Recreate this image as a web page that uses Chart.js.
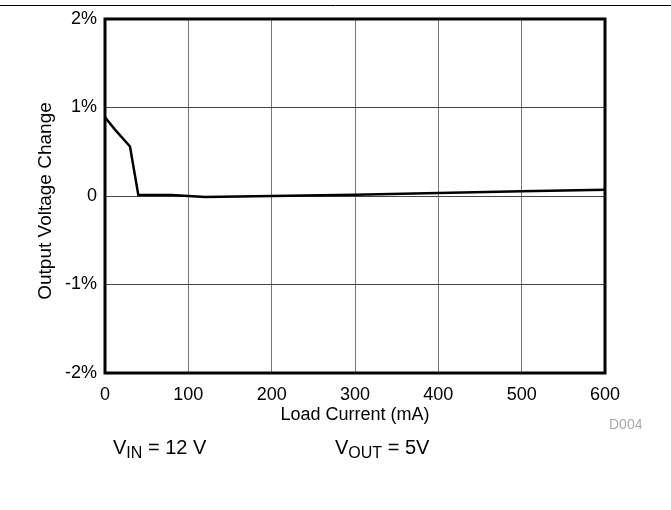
<!DOCTYPE html>
<html>
<head>
<meta charset="utf-8">
<script src="https://cdn.jsdelivr.net/npm/chart.js@4"></script>
<style>
  body { margin: 0; background: #fff; }
  #wrap { width: 671px; height: 510px; }
</style>
</head>
<body>
<div id="wrap"><canvas id="line-chart" width="671" height="510"></canvas></div>
<script>
// load current in mA
var loadCurrent = [0, 12, 30, 40, 60, 80, 100, 120, 200, 300, 400, 500, 600];
// output voltage change in %
var voltageChange = [0.89, 0.75, 0.56, 0.01, 0.01, 0.01, 0.0, -0.01, 0.0, 0.015, 0.035, 0.055, 0.07];
var yTicks = [-2, -1, 0, 1, 2];

var FONT = "'Liberation Sans', Arial, sans-serif";

var extras = {
    id: "extras",
    afterDraw: function (chart) {
        var ctx = chart.ctx;
        var a = chart.chartArea;
        ctx.save();
        // frame
        ctx.strokeStyle = "#000";
        ctx.lineWidth = 3;
        ctx.strokeRect(a.left, a.top, a.right - a.left, a.bottom - a.top);
        // top rule
        ctx.lineWidth = 1;
        ctx.beginPath();
        ctx.moveTo(0, 5.5);
        ctx.lineTo(671, 5.5);
        ctx.stroke();

        ctx.fillStyle = "#000";
        // y title
        ctx.save();
        ctx.translate(46, 201);
        ctx.rotate(-Math.PI / 2);
        ctx.font = "19px " + FONT;
        ctx.textAlign = "center";
        ctx.textBaseline = "middle";
        ctx.fillText("Output Voltage Change", 0, 0);
        ctx.restore();

        // x title
        ctx.font = "18px " + FONT;
        ctx.textAlign = "center";
        ctx.textBaseline = "alphabetic";
        ctx.fillText("Load Current (mA)", 355, 420);

        // figure id
        ctx.fillStyle = "#aaa";
        ctx.font = "14px " + FONT;
        ctx.textAlign = "left";
        ctx.textBaseline = "middle";
        ctx.fillText("D004", 609, 425);

        // conditions
        ctx.fillStyle = "#000";
        ctx.textBaseline = "alphabetic";
        drawSub(ctx, 113, 454, "V", "IN", " = 12 V");
        drawSub(ctx, 335, 454, "V", "OUT", " = 5V");
        ctx.restore();
    }
};

function drawSub(ctx, x, y, main, sub, rest) {
    ctx.textAlign = "left";
    ctx.font = "20px " + FONT;
    ctx.fillText(main, x, y);
    x += ctx.measureText(main).width;
    ctx.font = "16px " + FONT;
    ctx.fillText(sub, x, y + 4);
    x += ctx.measureText(sub).width;
    ctx.font = "20px " + FONT;
    ctx.fillText(rest, x, y);
}

function renderChart() {
    var points = loadCurrent.map(function (c, i) {
        return { x: c, y: voltageChange[i] };
    });
    new Chart(document.getElementById("line-chart"), {
        type: "line",
        data: {
            datasets: [
                {
                    data: points,
                    borderColor: "#000",
                    borderWidth: 2.5,
                    pointRadius: 0,
                    fill: false,
                    tension: 0,
                },
            ],
        },
        plugins: [extras],
        options: {
            responsive: false,
            animation: false,
            layout: { padding: { top: 19, right: 66, left: 0, bottom: 0 } },
            plugins: {
                legend: { display: false },
                tooltip: { enabled: false },
            },
            scales: {
                x: {
                    type: "linear",
                    min: 0,
                    max: 600,
                    ticks: {
                        stepSize: 100,
                        color: "#000",
                        font: { family: FONT, size: 18 },
                        padding: 11,
                        maxRotation: 0,
                    },
                    grid: { color: "#777", lineWidth: 1, drawTicks: false },
                    border: { display: false },
                    afterFit: function (s) { s.height = 137; },
                },
                y: {
                    min: -2,
                    max: 2,
                    afterBuildTicks: function (s) {
                        s.ticks = yTicks.map(function (v) { return { value: v }; });
                    },
                    ticks: {
                        color: "#000",
                        font: { family: FONT, size: 18 },
                        padding: 8,
                        callback: function (v) { return v === 0 ? "0" : v + "%"; },
                    },
                    grid: { color: "#444", lineWidth: 1, drawTicks: false },
                    border: { display: false },
                    afterFit: function (s) { s.width = 105; },
                },
            },
        },
    });
}

renderChart();
</script>
</body>
</html>
